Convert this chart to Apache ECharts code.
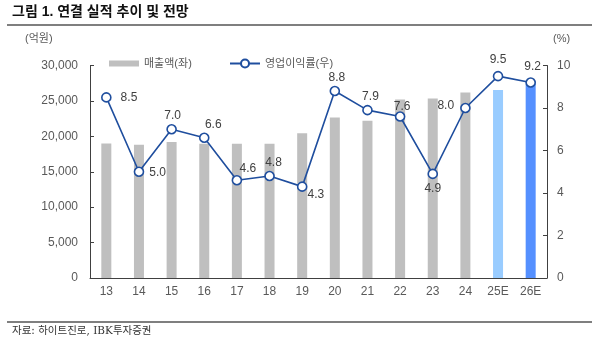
<!DOCTYPE html>
<html><head><meta charset="utf-8">
<script src="https://cdn.jsdelivr.net/npm/echarts@6/dist/echarts.min.js"></script>
<style>html,body{margin:0;padding:0;background:#fff}#c{width:599px;height:348px}</style>
</head><body><div id="c"></div>
<script>
const categories = ['13','14','15','16','17','18','19','20','21','22','23','24','25E','26E'];
const sales = [19000,18800,19200,18950,18950,18950,20450,22650,22200,25200,25350,26200,26550,27800];
const opMargin = [8.5,5.0,7.0,6.6,4.6,4.8,4.3,8.8,7.9,7.6,4.9,8.0,9.5,9.2];
const leftTicks = [0,5000,10000,15000,20000,25000,30000];
const rightTicks = [0,2,4,6,8,10];
const labelPos = ['right','right','top','top','top','top','right','top','top','top','bottom','left','top','top'];

const barColors = categories.map((c,i)=> i===12 ? '#99ccff' : (i===13 ? '#5590ff' : '#bfbfbf'));
const labelOffsets = [[7,0],[3,1],[1,0],[9,0],[11,2],[4,0],[-2,8],[2,0],[3,0],[2,3],[0,2],[-4,-2],[0,-3],[2,-3]];
const font = '"Liberation Sans","Noto Sans CJK KR",sans-serif';
const chart = echarts.init(document.getElementById('c'));
chart.setOption({
  animation:false,
  textStyle:{fontFamily:font},
  graphic:[
    {type:'text',left:12,top:5,style:{text:'그림 1. 연결 실적 추이 및 전망',font:'bold 14px '+font,fill:'#111'}},
    {type:'line',shape:{x1:7,y1:25,x2:592,y2:25},style:{stroke:'#555',lineWidth:1.5}},
    {type:'text',left:25,top:33,style:{text:'(억원)',font:'11px '+font,fill:'#595959'}},
    {type:'text',left:553,top:33,style:{text:'(%)',font:'11px '+font,fill:'#595959'}},
    {type:'line',shape:{x1:7,y1:322,x2:592,y2:322},style:{stroke:'#555',lineWidth:1.5}},
    {type:'text',left:12,top:326,style:{text:'자료: 하이트진로, IBK투자증권',font:'10.5px "DejaVu Serif","Noto Sans CJK KR",serif',fill:'#333'}}
  ],
  legend:[
    {top:53,left:104,itemWidth:30,itemHeight:6,
     textStyle:{fontSize:11,color:'#595959',fontFamily:font},
     data:[{name:'매출액(좌)',icon:'rect'}]},
    {top:53,left:224,itemWidth:30,itemHeight:10,
     textStyle:{fontSize:11,color:'#595959',fontFamily:font},
     data:[{name:'영업이익률(우)'}]}
  ],
  grid:{left:90,right:52,top:65.5,bottom:70},
  xAxis:{
    type:'category',data:categories,
    axisLine:{lineStyle:{color:'#404040'}},
    axisTick:{inside:true,length:4,lineStyle:{color:'#404040'}},
    axisLabel:{color:'#595959',fontSize:12,margin:8}
  },
  yAxis:[
    {type:'value',min:leftTicks[0],max:leftTicks[leftTicks.length-1],interval:5000,
     splitLine:{show:false},
     axisLine:{show:true,lineStyle:{color:'#404040'}},
     axisTick:{show:true,inside:true,length:4,lineStyle:{color:'#404040'}},
     axisLabel:{color:'#595959',fontSize:12,margin:12,formatter:v=>v.toLocaleString('en-US')}},
    {type:'value',min:rightTicks[0],max:rightTicks[rightTicks.length-1],interval:2,
     splitLine:{show:false},
     axisLine:{show:true,lineStyle:{color:'#404040'}},
     axisTick:{show:true,inside:true,length:4,lineStyle:{color:'#404040'}},
     axisLabel:{color:'#595959',fontSize:12,margin:10}}
  ],
  series:[
    {name:'매출액(좌)',type:'bar',yAxisIndex:0,barWidth:10,
     itemStyle:{color:'#bfbfbf'},
     data:sales.map((v,i)=>({value:v,itemStyle:{color:barColors[i]}}))},
    {name:'영업이익률(우)',type:'line',yAxisIndex:1,
     symbol:'circle',symbolSize:9,
     lineStyle:{color:'#1f4e9e',width:1.6},
     itemStyle:{color:'#fff',borderColor:'#1f4e9e',borderWidth:1.6},
     data:opMargin.map((v,i)=>({value:v,label:{show:true,position:labelPos[i],offset:labelOffsets[i],distance:2,
       color:'#404040',fontSize:12,formatter:p=>p.value.toFixed(1)}}))}
  ]
});
</script></body></html>
